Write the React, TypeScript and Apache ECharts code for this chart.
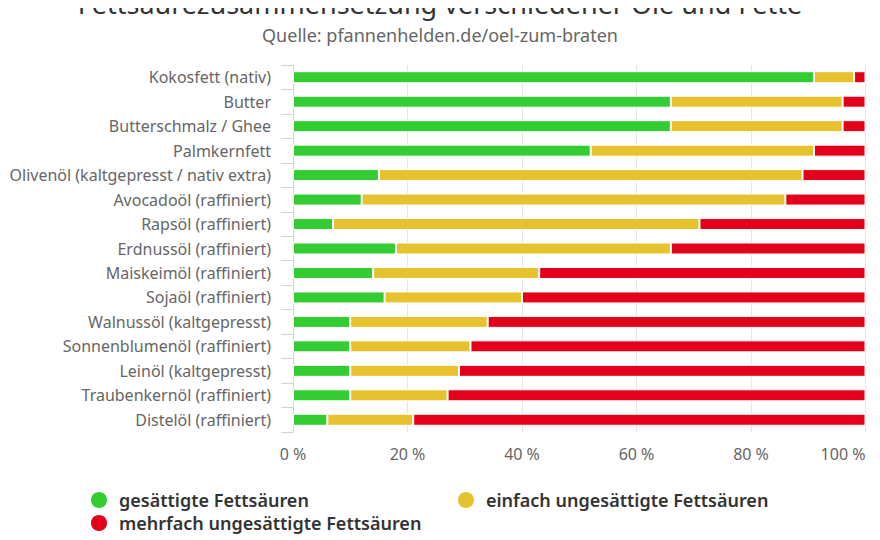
import React, { useEffect, useRef } from "react";
import * as echarts from "echarts";

const categories = [
  "Kokosfett (nativ)",
  "Butter",
  "Butterschmalz / Ghee",
  "Palmkernfett",
  "Olivenöl (kaltgepresst / nativ extra)",
  "Avocadoöl (raffiniert)",
  "Rapsöl (raffiniert)",
  "Erdnussöl (raffiniert)",
  "Maiskeimöl (raffiniert)",
  "Sojaöl (raffiniert)",
  "Walnussöl (kaltgepresst)",
  "Sonnenblumenöl (raffiniert)",
  "Leinöl (kaltgepresst)",
  "Traubenkernöl (raffiniert)",
  "Distelöl (raffiniert)",
];

const gesaettigt = [91, 66, 66, 52, 15, 12, 7, 18, 14, 16, 10, 10, 10, 10, 6];
const einfach = [7, 30, 30, 39, 74, 74, 64, 48, 29, 24, 24, 21, 19, 17, 15];
const mehrfach = [2, 4, 4, 9, 11, 14, 29, 34, 57, 60, 66, 69, 71, 73, 79];

const seriesNames = [
  "gesättigte Fettsäuren",
  "einfach ungesättigte Fettsäuren",
  "mehrfach ungesättigte Fettsäuren",
];
const colors = ["#33cc33", "#e6c22f", "#e2001a"];
const valueTicks = [0, 20, 40, 60, 80, 100];

const FONT = "'Noto Sans', sans-serif";

export default function App() {
  const ref = useRef<HTMLDivElement>(null);
  useEffect(() => {
    if (!ref.current) return;
    const chart = echarts.init(ref.current, null, { renderer: "svg" });
    const data = [gesaettigt, einfach, mehrfach];
    const legendPos = [
      { left: 89, top: 490 },
      { left: 456, top: 490 },
      { left: 89, top: 513 },
    ];
    chart.setOption({
      animation: false,
      textStyle: { fontFamily: FONT },
      title: {
        text: "Fettsäurezusammensetzung verschiedener Öle und Fette",
        subtext: "Quelle: pfannenhelden.de/oel-zum-braten",
        left: "center",
        top: -15,
        itemGap: 9,
        textStyle: { fontFamily: FONT, fontSize: 27, fontWeight: "normal", color: "#333" },
        subtextStyle: { fontFamily: FONT, fontSize: 18, color: "#666" },
      },
      legend: seriesNames.map((n, i) => ({
        data: [n],
        left: legendPos[i].left,
        top: legendPos[i].top,
        icon: "circle",
        itemWidth: 18,
        itemHeight: 18,
        padding: 0,
        selectedMode: false,
        textStyle: {
          fontFamily: FONT,
          fontSize: 18,
          fontWeight: 600,
          color: "#333",
          padding: [0, 0, 0, 6],
        },
      })),
      grid: { left: 293, right: 14.5, top: 65, bottom: 108, containLabel: false },
      xAxis: {
        type: "value",
        min: 0,
        max: 100,
        interval: 20,
        axisLine: { show: false },
        axisTick: { show: false },
        splitLine: { lineStyle: { color: "#e6e6e6" } },
        axisLabel: {
          formatter: (v: number) => (valueTicks.includes(v) ? v + " %" : ""),
          color: "#666",
          fontSize: 16,
          fontFamily: FONT,
          margin: 14,
          alignMaxLabel: "right",
        },
      },
      yAxis: {
        type: "category",
        data: categories,
        inverse: true,
        axisLine: { lineStyle: { color: "#ccd6eb" } },
        axisTick: { show: true, length: 12, lineStyle: { color: "#ccd6eb" } },
        axisLabel: {
          interval: 0,
          color: "#666",
          fontSize: 16,
          fontFamily: FONT,
          margin: 22,
        },
      },
      series: seriesNames.map((n, i) => ({
        name: n,
        type: "bar",
        stack: "total",
        barWidth: 12,
        data: data[i],
        itemStyle: { color: colors[i], borderColor: "#fff", borderWidth: 1 },
      })),
    });
    return () => chart.dispose();
  }, []);
  return <div ref={ref} style={{ width: 880, height: 540, marginLeft: -8, marginTop: -8 }} />;
}
